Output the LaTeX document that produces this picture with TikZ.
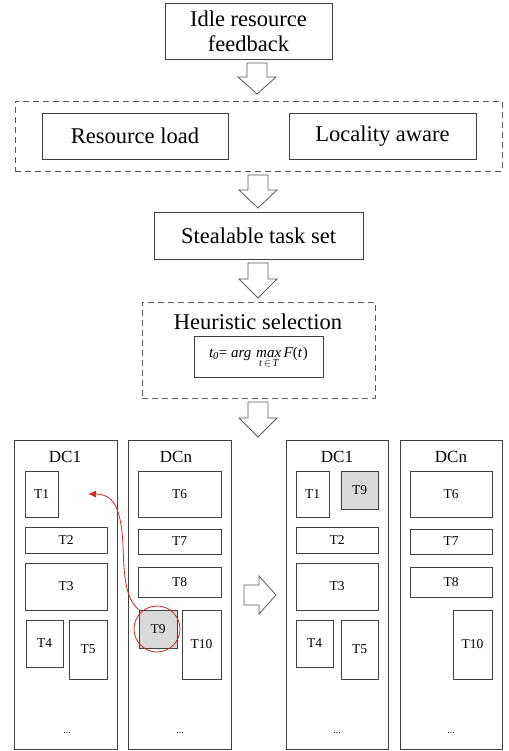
\documentclass[tikz,border=0pt]{standalone}
\usepackage{amsmath}
\usepackage{fontspec}
\setmainfont{Liberation Serif}
\usetikzlibrary{fit,arrows.meta}
\definecolor{lc}{HTML}{404040}
\definecolor{dc}{HTML}{5A5A5A}
\definecolor{tg}{HTML}{D9D9D9}
\definecolor{rr}{HTML}{D82424}
\tikzset{
  box/.style={draw=lc, line width=0.9pt, inner sep=0pt},
  btxt/.style={inner sep=0pt, font=\fontsize{22.5}{25}\selectfont, align=center},
  dbox/.style={draw=dc, line width=0.9pt, dash pattern=on 6pt off 4pt, inner sep=0pt},
  dcbox/.style={draw=lc, line width=0.9pt, inner sep=0pt},
  task/.style={draw=lc, line width=0.8pt, inner sep=0pt},
  tlab/.style={font=\fontsize{13.5}{15}\selectfont},
  dclab/.style={font=\fontsize{17}{19}\selectfont},
  harrow/.style={draw=dc, line width=0.8pt, fill=white, line join=miter},
  redarr/.style={draw=rr, line width=0.8pt, -{Latex[length=8pt,width=7pt]}},
}
\newcommand{\hdown}[4]{% x, ytop, yhead, ytip
  \draw[harrow] (#1-10,#2) -- (#1+10,#2) -- (#1+10,#3) -- (#1+19,#3) -- (#1,#4) -- (#1-19,#3) -- (#1-10,#3) -- cycle;}
\newcommand{\tbox}[7][task]{% style, name, x1, y1, x2, y2, text
  \node[#1, fit={(#3,#4)(#5,#6)}] (#2) {};
  \node[tlab] at (#2.center) {#7};}
\begin{document}
\begin{tikzpicture}[x=1pt,y=-1pt]
\useasboundingbox (0,0) rectangle (508,751);

% top flow
\node[box, fit={(165,3)(332,59)}] (idle) {};
\node[btxt] at (idle.center) {Idle resource\\feedback};
\hdown{257}{63}{77}{94}

\node[dbox, fit={(15,101)(502,171)}] (crit) {};
\node[box, fit={(42,113)(228,159)}] (rl) {};
\node[btxt] at (rl.center) {Resource load};
\node[box, fit={(289,113)(476,159)}] (la) {};
\node[btxt] at (la.center) {Locality aware};
\hdown{258}{175}{190}{208}

\node[box, fit={(154,212)(363,259)}] (sts) {};
\node[btxt] at (sts.center) {Stealable task set};
\hdown{258}{263}{279}{298}

\node[dbox, fit={(142,302)(375,398)}] (heu) {};
\node[btxt] at (258,322) {Heuristic selection};
\node[box, fit={(194,336)(323,377)}] (form) {};
\node[font=\fontsize{15}{17}\selectfont, inner sep=0pt] at ([yshift=-1pt]form.center) {$\textit{t}_{\textit{0}}\text{= }\textit{arg}\,\mathop{\textit{max}}\limits_{\rule{0pt}{6.5pt}\textit{t\kern1pt}\mkern2mu\in\mkern2mu\textit{T}}\textit{F}\text{(}\textit{t\kern1pt}\text{)}$};
\hdown{258}{402}{418}{437}

% left state
\node[dcbox, fit={(14,440)(117,749)}] (dc1a) {};
\node[dclab] at (65,457) {DC1};
\node at (67,733) {...};
\tbox{a1}{25}{471}{58}{517}{T1}
\tbox{a2}{25}{527}{107}{553}{T2}
\tbox{a3}{25}{563}{107}{610}{T3}
\tbox{a4}{26}{620}{63}{667}{T4}
\tbox{a5}{69}{620}{107}{679}{T5}

\node[dcbox, fit={(128,440)(231,749)}] (dcna) {};
\node[dclab] at (176,457) {DCn};
\node at (180,733) {...};
\tbox{a6}{138}{471}{221}{517}{T6}
\tbox{a7}{138}{529}{221}{554}{T7}
\tbox{a8}{138}{567}{221}{597}{T8}
\tbox[task,fill=tg]{a9}{139}{610}{177}{648}{T9}
\tbox{a10}{182}{610}{221}{679}{T10}

\node[draw=rr, line width=0.8pt, circle, minimum size=46pt, inner sep=0pt] (circ) at (157,629) {};
\coordinate (tgt) at (88,494);
\draw[redarr] (a9.north west) .. controls (125,598) and (124,575) .. (123,545)
  .. controls (121,505) and (112,494) .. (tgt);

% transition arrow
\draw[harrow] (244,585) -- (259,585) -- (259,576) -- (276,595) -- (259,614) -- (259,605) -- (244,605) -- cycle;

% right state
\node[dcbox, fit={(286,440)(388,749)}] (dc1b) {};
\node[dclab] at (337,457) {DC1};
\node at (337,733) {...};
\tbox{b1}{296}{471}{329}{517}{T1}
\tbox[task,fill=tg]{b9}{341}{471}{378}{509}{T9}
\tbox{b2}{296}{527}{378}{553}{T2}
\tbox{b3}{296}{563}{378}{610}{T3}
\tbox{b4}{296}{620}{333}{667}{T4}
\tbox{b5}{341}{620}{378}{679}{T5}

\node[dcbox, fit={(400,440)(502,749)}] (dcnb) {};
\node[dclab] at (451,457) {DCn};
\node at (451,733) {...};
\tbox{b6}{410}{471}{492}{517}{T6}
\tbox{b7}{410}{529}{492}{554}{T7}
\tbox{b8}{410}{567}{492}{597}{T8}
\tbox{b10}{453}{610}{492}{679}{T10}
\end{tikzpicture}
\end{document}
